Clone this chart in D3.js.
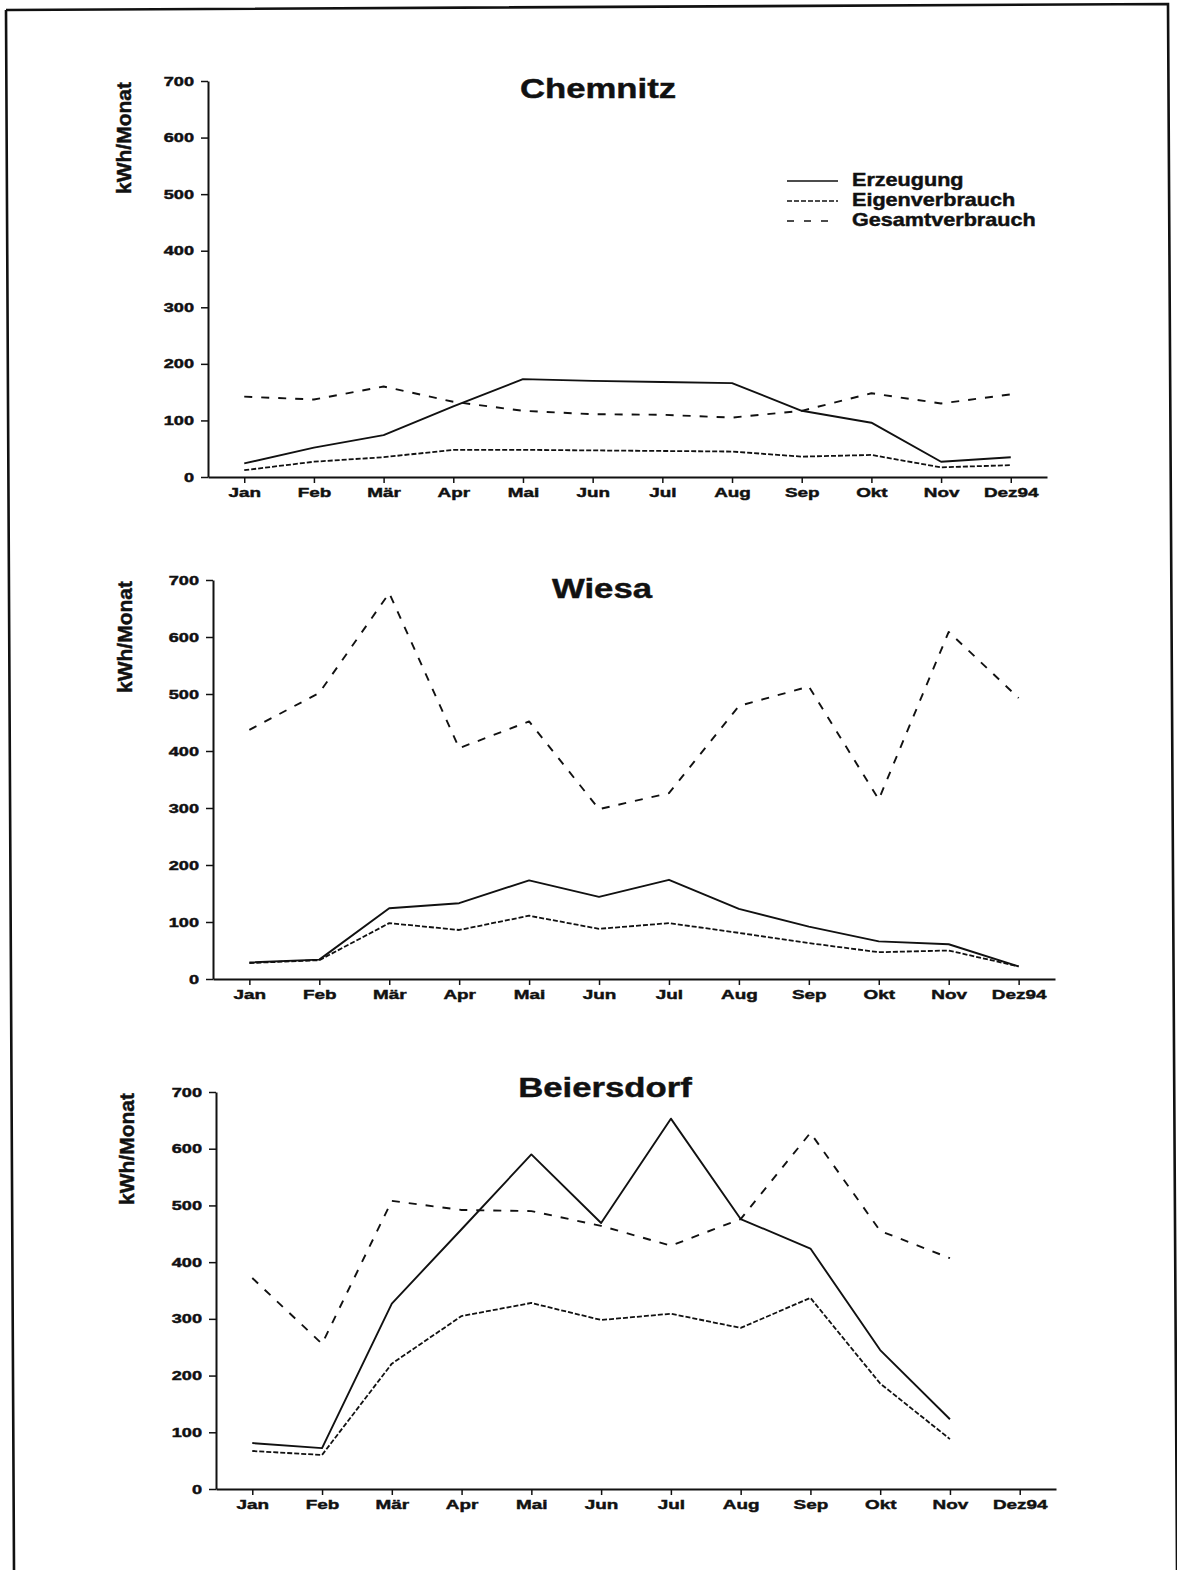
<!DOCTYPE html>
<html>
<head>
<meta charset="utf-8">
<script src="https://cdn.jsdelivr.net/npm/d3@7"></script>
<style>
  html, body { margin: 0; padding: 0; background: #fff; }
  svg { display: block; }
  text { font-family: "Liberation Sans", Arial, Helvetica, sans-serif; font-weight: bold; fill: #111; }
  .heavy { stroke: #111; stroke-width: 0.45px; }
</style>
</head>
<body>
<svg id="chart" width="1177" height="1570"></svg>
<script>
// Monthly energy balance 1994 for three PV installations (kWh per month)
const months = ["Jan", "Feb", "Mär", "Apr", "Mai", "Jun", "Jul", "Aug", "Sep", "Okt", "Nov", "Dez94"];
const yTickValues = [0, 100, 200, 300, 400, 500, 600, 700];
const seriesNames = ["Erzeugung", "Eigenverbrauch", "Gesamtverbrauch"];

const chemnitzErzeugung       = [24, 52, 74, 125, 173, 170, 168, 166, 117, 96, 27, 35];
const chemnitzEigenverbrauch  = [12, 27, 35, 48, 48, 47, 46, 45, 36, 39, 17, 21];
const chemnitzGesamtverbrauch = [142, 137, 160, 133, 117, 111, 110, 105, 117, 148, 130, 146];

const wiesaErzeugung       = [29, 34, 124, 133, 173, 144, 174, 123, 92, 66, 61, 22];
const wiesaEigenverbrauch  = [28, 33, 98, 86, 111, 88, 98, 81, 63, 47, 50, 22];
const wiesaGesamtverbrauch = [437, 502, 677, 405, 452, 298, 326, 479, 513, 315, 609, 493];

// December missing for Beiersdorf
const beiersdorfErzeugung       = [81, 72, 327, 458, 590, 469, 653, 476, 424, 245, 123, null];
const beiersdorfEigenverbrauch  = [67, 60, 221, 305, 328, 298, 309, 284, 337, 186, 88, null];
const beiersdorfGesamtverbrauch = [372, 256, 508, 492, 490, 464, 429, 476, 628, 455, 407, null];

// line style per series: solid, fine dash, coarse dash
const seriesStyles = [
  { dash: null,  width: 1.9 },
  { dash: "5,2", width: 1.8 },
  { dash: "8,9", width: 1.9 }
];

const panels = [
  { title: "Chemnitz", data: [chemnitzErzeugung, chemnitzEigenverbrauch, chemnitzGesamtverbrauch],
    left: 208, right: 1047, top: 81, bottom: 477, titleX: 598, titleY: 98, labelX: 124, legend: true },
  { title: "Wiesa", data: [wiesaErzeugung, wiesaEigenverbrauch, wiesaGesamtverbrauch],
    left: 213, right: 1055, top: 580, bottom: 979, titleX: 602, titleY: 598, labelX: 125, legend: false },
  { title: "Beiersdorf", data: [beiersdorfErzeugung, beiersdorfEigenverbrauch, beiersdorfGesamtverbrauch],
    left: 216, right: 1056, top: 1092, bottom: 1489, titleX: 605, titleY: 1097, labelX: 127, legend: false }
];

const svg = d3.select("#chart");

// page frame (slightly skewed, as on the printed sheet)
svg.append("path")
  .attr("d", "M6,10 L1168,4 L1177,1570 M6,10 L14,1570")
  .attr("fill", "none")
  .attr("stroke", "#111")
  .attr("stroke-width", 2.6);

panels.forEach(p => {
  const g = svg.append("g");

  const x = d3.scalePoint().domain(months).range([p.left, p.right]).padding(0.52);
  const y = d3.scaleLinear().domain([0, 700]).range([p.bottom, p.top]);

  // y axis
  const ya = g.append("g")
    .attr("transform", `translate(${p.left},0)`)
    .call(d3.axisLeft(y).tickValues(yTickValues).tickSize(7).tickSizeOuter(0).tickPadding(8))
    .attr("font-family", null).attr("font-size", null);
  ya.select(".domain").attr("stroke", "#111").attr("stroke-width", 2);
  ya.selectAll(".tick line").attr("stroke", "#111").attr("stroke-width", 1.5);
  ya.selectAll(".tick text")
    .attr("x", null)
    .attr("class", "heavy")
    .attr("transform", "translate(-14,0) scale(1.45,1)")
    .style("font-size", "12.5px");

  // x axis
  const xa = g.append("g")
    .attr("transform", `translate(0,${p.bottom})`)
    .call(d3.axisBottom(x).tickSize(6).tickSizeOuter(0).tickPadding(4))
    .attr("font-family", null).attr("font-size", null);
  xa.select(".domain").attr("stroke", "#111").attr("stroke-width", 2);
  xa.selectAll(".tick line").attr("stroke", "#111").attr("stroke-width", 1.5);
  xa.selectAll(".tick text")
    .attr("class", "heavy")
    .attr("transform", "scale(1.4,1)")
    .style("font-size", "13.5px");

  // axis title
  g.append("text")
    .attr("class", "heavy")
    .attr("transform", `translate(${p.labelX},${p.top + 57}) rotate(-90)`)
    .attr("text-anchor", "middle")
    .attr("dy", "0.35em")
    .style("font-size", "21px")
    .text("kWh/Monat");

  // panel title
  g.append("text")
    .attr("class", "heavy")
    .attr("transform", `translate(${p.titleX},${p.titleY}) scale(1.24,1)`)
    .attr("text-anchor", "middle")
    .style("font-size", "28px")
    .text(p.title);

  // series lines
  p.data.forEach((vals, i) => {
    const line = d3.line()
      .defined(d => d != null)
      .x((d, j) => x(months[j]))
      .y(d => y(d));
    g.append("path")
      .datum(vals)
      .attr("d", line)
      .attr("fill", "none")
      .attr("stroke", "#111")
      .attr("stroke-width", seriesStyles[i].width)
      .attr("stroke-dasharray", seriesStyles[i].dash)
      .attr("stroke-linejoin", "round");
  });

  // legend
  if (p.legend) {
    const lg = g.append("g");
    seriesNames.forEach((name, i) => {
      const ly = 181 + i * 20;
      lg.append("line")
        .attr("x1", 787).attr("x2", 838)
        .attr("y1", ly).attr("y2", ly)
        .attr("stroke", "#111")
        .attr("stroke-width", 1.6)
        .attr("stroke-dasharray", i === 2 ? "7,10" : seriesStyles[i].dash);
      lg.append("text")
        .attr("class", "heavy")
        .attr("transform", `translate(852,${ly + 5}) scale(1.2,1)`)
        .style("font-size", "18px")
        .text(name);
    });
  }
});
</script>
</body>
</html>
